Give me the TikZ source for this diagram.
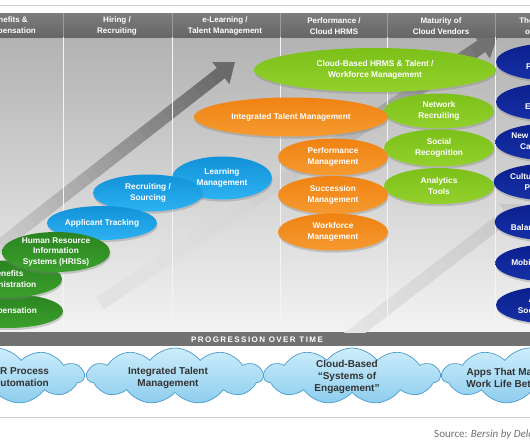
\documentclass[tikz,border=0pt]{standalone}
\usepackage{fontspec}
\setmainfont{Liberation Sans}
\newfontfamily\srcfont{Carlito}
\newfontfamily\spacedfont{Liberation Sans}[LetterSpace=18]
\usetikzlibrary{shapes.geometric,shapes.symbols,shadows}
\definecolor{hdrtop}{HTML}{7C7C7C}
\definecolor{hdrbot}{HTML}{666666}
\definecolor{hdrdiv}{HTML}{9A9A9A}
\definecolor{paneltop}{HTML}{B2B2B2}
\definecolor{panelbot}{HTML}{F3F3F3}
\definecolor{paneldiv}{HTML}{F4F4F4}
\definecolor{progband}{HTML}{727272}
\definecolor{frameline}{HTML}{CFCFCF}
\definecolor{darkgreenA}{HTML}{2B8420}
\definecolor{darkgreenB}{HTML}{3AA02C}
\definecolor{skyA}{HTML}{1292D8}
\definecolor{skyB}{HTML}{2DB2F2}
\definecolor{orangeA}{HTML}{F08212}
\definecolor{orangeB}{HTML}{F59A30}
\definecolor{limeA}{HTML}{7CC01A}
\definecolor{limeB}{HTML}{93D12C}
\definecolor{navyA}{HTML}{0B1F8E}
\definecolor{navyB}{HTML}{1631A6}
\definecolor{clouda}{HTML}{CDEDFB}
\definecolor{cloudb}{HTML}{8DCDEE}
\definecolor{cloudedge}{HTML}{4A9BD0}
\definecolor{cloudtext}{HTML}{333333}
\definecolor{srcgray}{HTML}{707070}
\definecolor{adark}{HTML}{6A6A6A}
\definecolor{alight}{HTML}{D6D6D6}
\definecolor{bdark}{HTML}{727272}
\definecolor{blight}{HTML}{E2E2E2}
\definecolor{cdark}{HTML}{C8C8C8}
\definecolor{clight}{HTML}{EAEAEA}

% fading arrow: #1 tip, #2 angle, #3 strips, #4 dark, #5 light, #6 half shaft, #7 half head, #8 head length, #9 fade exponent
\newcommand\fadearrow[9]{%
  \begin{scope}[shift={#1}, rotate=#2]
    \pgfmathtruncatemacro\nlast{#3-1}
    \foreach \i in {0,...,\nlast}{
      \pgfmathsetmacro\xa{-#8-\i*10+0.6}
      \pgfmathsetmacro\xb{-#8-(\i+1)*10}
      \pgfmathtruncatemacro\p{100*(1-\i/#3)^#9}
      \fill[#4!\p!#5] (\xa,-#6) -- (\xb,-#6) -- (\xb,#6) -- (\xa,#6) -- cycle;
    }
    \fill[#4] (0,0) -- (-#8,-#7) -- (-#8,#7) -- cycle;
  \end{scope}}

\begin{document}
\begin{tikzpicture}[x=1pt, y=-1pt,
  hdrtext/.style={align=center, text=white, font=\fontsize{8}{10.5}\selectfont\bfseries},
  oval/.style={ellipse, inner xsep=0pt, inner ysep=-6pt, align=center, text=white,
    font=\fontsize{8.3}{10.5}\selectfont\bfseries,
    drop shadow={shadow xshift=0.6pt, shadow yshift=-2.2pt, opacity=0.35}},
  greenoval/.style={oval, top color=darkgreenA, bottom color=darkgreenB},
  skyoval/.style={oval, top color=skyA, bottom color=skyB},
  orangeoval/.style={oval, top color=orangeA, bottom color=orangeB},
  limeoval/.style={oval, top color=limeA, bottom color=limeB},
  navyoval/.style={oval, top color=navyA, bottom color=navyB, minimum width=108pt, minimum height=37pt},
  cloudbox/.style={cloud, cloud puffs=11, cloud puff arc=105, cloud ignores aspect,
    minimum width=176pt, minimum height=56pt, draw=cloudedge, line width=0.7pt,
    top color=clouda, bottom color=cloudb},
  cloudlabel/.style={align=center, text=cloudtext, font=\fontsize{10}{12}\selectfont\bfseries}
]
\useasboundingbox (0,0) rectangle (530,442);
\clip (0,0) rectangle (530,442);
\fill[white] (0,0) rectangle (530,442);

% frame lines
\draw[frameline, line width=0.8pt] (0,5) -- (530,5);
\draw[frameline, line width=0.8pt] (0,417) -- (530,417);

% panel
\shade[top color=paneltop, bottom color=panelbot] (0,37) rectangle (530,332);
\fill[progband] (0,332) rectangle (530,346);

% background arrows, kept inside the panel
\begin{scope}
  \clip (0,30) rectangle (530,332);
  \fadearrow{(235,62)}{38}{30}{adark}{alight}{6.5}{14}{18}{1}
  \fadearrow{(498,35)}{34}{46}{bdark}{blight}{7}{15}{20}{2.2}
  \fadearrow{(522,204)}{37.6}{22}{cdark}{clight}{6.5}{14}{18}{1}
\end{scope}

% header band
\shade[top color=hdrtop, bottom color=hdrbot] (0,13) rectangle (530,37);

% column dividers
\foreach \x in {63,172,280,387,495}{
  \draw[paneldiv, line width=0.8pt] (\x,37) -- (\x,332);
  \draw[hdrdiv, line width=0.8pt] (\x,13) -- (\x,37);
}

% column headers
\node[hdrtext] (h1) at (8,26) {Benefits \&\\Compensation};
\node[hdrtext] (h2) at (117,26) {Hiring /\\Recruiting};
\node[hdrtext] (h3) at (225,26) {e-Learning /\\Talent Management};
\node[hdrtext] (h4) at (334,26) {Performance /\\Cloud HRMS};
\node[hdrtext] (h5) at (441,26) {Maturity of\\Cloud Vendors};
\node[hdrtext] (h6) at (540,26) {The Future\\of Work};

% lime (cloud vendors)
\node[limeoval, minimum width=242pt, minimum height=44pt] (cloudhrms) at (375,70) {Cloud-Based HRMS \& Talent /\\Workforce Management};
\node[limeoval, minimum width=110pt, minimum height=35pt] (net) at (439,111) {Network\\Recruiting};
\node[limeoval, minimum width=110pt, minimum height=37pt] (soc) at (439,148) {Social\\Recognition};
\node[limeoval, minimum width=110pt, minimum height=36pt] (ana) at (439,186) {Analytics\\Tools};

% orange (talent management)
\node[orangeoval, minimum width=194pt, minimum height=39pt] (itm) at (291,117) {Integrated Talent Management};
\node[orangeoval, minimum width=110pt, minimum height=37pt] (perf) at (333,157) {Performance\\Management};
\node[orangeoval, minimum width=110pt, minimum height=38pt] (succ) at (333,195) {Succession\\Management};
\node[orangeoval, minimum width=110pt, minimum height=37pt] (work) at (333,232) {Workforce\\Management};

% sky blue
\node[skyoval, minimum width=100pt, minimum height=43pt] (learn) at (222,178) {Learning\\Management};
\node[skyoval, minimum width=110pt, minimum height=37pt] (rec) at (148,193) {Recruiting /\\Sourcing};
\node[skyoval, minimum width=110pt, minimum height=34pt] (app) at (102,223) {Applicant Tracking};

% dark green
\node[greenoval, minimum width=110pt, minimum height=34pt] (comp) at (8,311) {Compensation};
\node[greenoval, minimum width=110pt, minimum height=37pt] (ben) at (7,279) {Benefits\\Administration};
\node[greenoval, minimum width=108pt, minimum height=40pt] (hris) at (56,252) {Human Resource\\Information\\Systems (HRISs)};

% navy (future)
\node[navyoval] (n1) at (550,62) {Individual\\Productivity};
\node[navyoval] (n2) at (550,102) {Increased\\Engagement};
\node[navyoval] (n3) at (550,142) {New Approaches to\\Career Mobility};
\node[navyoval] (n4) at (550,182) {Culture of Feedback\\Performance};
\node[navyoval] (n5) at (550,222) {Work-Life\\Balance \& Wellness};
\node[navyoval] (n6) at (550,263) {Mobile Experiences};
\node[navyoval] (n7) at (550,305) {Always-On\\Social Networks};

% progression label
\node[text=white, font=\fontsize{8}{9}\selectfont\spacedfont\bfseries] (prog) at (257,339.5) {PROGRESSION OVER TIME};

% clouds
\node[cloudbox] (c1) at (-4,376) {};
\node[cloudbox] (c2) at (175,376) {};
\node[cloudbox] (c3) at (352,376) {};
\node[cloudbox] (c4) at (530,376) {};
\node[cloudlabel] (t1) at (21,377) {HR Process\\Automation};
\node[cloudlabel] (t2) at (168,378) {Integrated Talent\\Management};
\node[cloudlabel] (t3) at (347,377) {Cloud-Based\\“Systems of\\Engagement”};
\node[cloudlabel] (t4) at (505,378) {Apps That Make\\Work Life Better};

% source
\node[anchor=base west, text=srcgray, font=\fontsize{11}{13}\selectfont\srcfont, inner sep=0pt] (src) at (434,437) {Source: \textit{Bersin by Deloitte}};
\end{tikzpicture}
\end{document}
